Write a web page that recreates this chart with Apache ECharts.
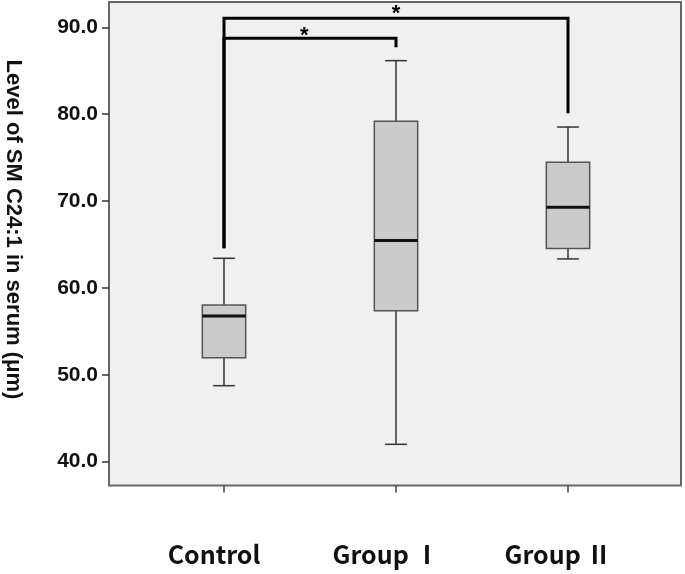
<!DOCTYPE html>
<html><head><meta charset="utf-8">
<script src="https://cdn.jsdelivr.net/npm/echarts@6/dist/echarts.min.js"></script>
<style>html,body{margin:0;padding:0;background:#fff}#c{width:685px;height:574px}</style>
</head><body><div id="c"></div>
<script>
const categories = ['Control', 'Group Ⅰ', 'Group Ⅱ'];
// per group: [lower whisker, Q1, median, Q3, upper whisker]
const controlBox = [48.75, 51.97, 56.77, 58.04, 63.41];
const group1Box = [42.0, 57.38, 65.45, 79.18, 86.16];
const group2Box = [63.34, 64.53, 69.28, 74.46, 78.52];
const yTicks = [40, 50, 60, 70, 80, 90];
const yTitle = 'Level of SM C24:1 in serum (μm)';
// significance brackets: [from group index, to group index, bar level, from-leg end, to-leg end]
const bracketOuter = [0, 2, 91.04, 64.56, 80.1];
const bracketInner = [0, 1, 88.73, 64.56, 87.7];
// star marks: [x position (group index units), level]
const starOuter = [1.0, 91.99];
const starInner = [0.467, 89.49];

const boxes = [controlBox, group1Box, group2Box].map((b, i) => [i, ...b]);
const Y_MIN = 37.26, Y_MAX = 92.91;

const chart = echarts.init(document.getElementById('c'));
chart.setOption({
  animation: false,
  backgroundColor: '#ffffff',
  grid: [
    {left: 109, right: 4, top: 2, bottom: 88.5, show: true, backgroundColor: '#f0f0f0', borderColor: '#666', borderWidth: 2},
    {left: 138, right: 31, top: 2, bottom: 88.5}
  ],
  xAxis: [
    {gridIndex: 0, type: 'value', min: -0.6686, max: 2.657, show: false},
    {gridIndex: 1, type: 'category', data: categories, boundaryGap: true,
     axisLine: {show: false, onZero: false},
     axisTick: {show: true, alignWithLabel: true, length: 7, lineStyle: {color: '#444', width: 1.5}},
     axisLabel: {margin: 56, color: '#111', fontFamily: 'Noto Sans CJK KR', fontWeight: 'bold', fontSize: 25, padding: [0, 20, 0, 0]}}
  ],
  yAxis: [
    {gridIndex: 0, type: 'value', min: Y_MIN, max: Y_MAX, position: 'left',
     axisLine: {show: false, onZero: false}, splitLine: {show: false},
     axisTick: {show: true, length: 7, customValues: yTicks, lineStyle: {color: '#333', width: 1.5}},
     axisLabel: {customValues: yTicks, margin: 11, color: '#111',
       fontFamily: 'Liberation Sans', fontWeight: 'bold', fontSize: 21, formatter: v => v.toFixed(1)}},
    {gridIndex: 1, type: 'value', min: Y_MIN, max: Y_MAX, show: false}
  ],
  graphic: [{
    type: 'text', x: 13.5, y: 229.5, rotation: -Math.PI / 2,
    style: {text: yTitle, font: 'bold 22px "Liberation Sans"', fill: '#111', textAlign: 'center', textVerticalAlign: 'middle'}
  }],
  series: [
    {
      type: 'custom', xAxisIndex: 0, yAxisIndex: 0, data: boxes,
      encode: {x: 0, y: [1, 2, 3, 4, 5]},
      renderItem: (params, api) => {
        const x = api.value(0);
        const lo = api.coord([x, api.value(1)]);
        const q1 = api.coord([x, api.value(2)]);
        const md = api.coord([x, api.value(3)]);
        const q3 = api.coord([x, api.value(4)]);
        const hi = api.coord([x, api.value(5)]);
        const band = api.size([1, 0])[0];
        const half = band * 0.126, cap = band * 0.063;
        const cx = lo[0];
        const ws = {stroke: '#333', lineWidth: 1.5};
        return {type: 'group', children: [
          {type: 'line', shape: {x1: cx, y1: hi[1], x2: cx, y2: q3[1]}, style: ws},
          {type: 'line', shape: {x1: cx, y1: q1[1], x2: cx, y2: lo[1]}, style: ws},
          {type: 'line', shape: {x1: cx - cap, y1: hi[1], x2: cx + cap, y2: hi[1]}, style: ws},
          {type: 'line', shape: {x1: cx - cap, y1: lo[1], x2: cx + cap, y2: lo[1]}, style: ws},
          {type: 'rect', shape: {x: cx - half, y: q3[1], width: 2 * half, height: q1[1] - q3[1]}, style: {fill: '#cbcbcb', stroke: '#555', lineWidth: 1.5}},
          {type: 'line', shape: {x1: cx - half, y1: md[1], x2: cx + half, y2: md[1]}, style: {stroke: '#111', lineWidth: 3}}
        ]};
      }
    },
    {
      type: 'custom', xAxisIndex: 0, yAxisIndex: 0, data: [bracketOuter, bracketInner],
      encode: {x: [0, 1], y: [2, 3, 4]},
      renderItem: (params, api) => {
        const a = api.coord([api.value(0), api.value(3)]);
        const b = api.coord([api.value(0), api.value(2)]);
        const c = api.coord([api.value(1), api.value(2)]);
        const d = api.coord([api.value(1), api.value(4)]);
        return {type: 'polyline', shape: {points: [a, b, c, d]}, style: {stroke: '#000', lineWidth: 3, fill: null, lineJoin: 'miter'}};
      }
    },
    {
      type: 'custom', xAxisIndex: 0, yAxisIndex: 0, data: [starOuter, starInner],
      encode: {x: 0, y: 1},
      renderItem: (params, api) => {
        const p = api.coord([api.value(0), api.value(1)]);
        return {type: 'text', x: p[0], y: p[1] + 4, style: {text: '*', font: 'bold 22px "Liberation Sans"', fill: '#000', textAlign: 'center', textVerticalAlign: 'middle'}};
      }
    }
  ]
});
</script></body></html>
